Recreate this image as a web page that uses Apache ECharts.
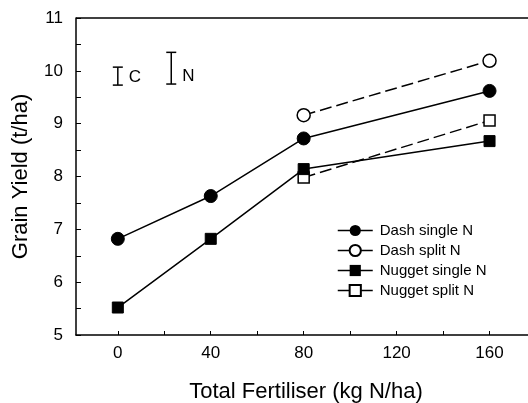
<!DOCTYPE html>
<html><head><meta charset="utf-8">
<script src="https://cdn.jsdelivr.net/npm/echarts@6/dist/echarts.min.js"></script>
<style>html,body{margin:0;padding:0;background:#fff}#c{width:528px;height:403px}</style>
</head><body><div id="c"></div>
<script>
var fertiliser = [0, 40, 80, 160];
var dashSingle = [6.82, 7.63, 8.72, 9.62];
var dashSplitX = [80, 160];
var dashSplit = [9.16, 10.19];
var nuggetSingle = [5.52, 6.82, 8.14, 8.67];
var nuggetSplitX = [80, 160];
var nuggetSplit = [7.98, 9.06];
var xTickLabels = [0, 40, 80, 120, 160];
var xTicks = [0, 20, 40, 60, 80, 100, 120, 140, 160, 180];
var errLabels = ['C', 'N'];
var errX = [0, 23];
var errLow = [9.73, 9.75];
var errHigh = [10.07, 10.35];

function pairs(xs, ys){ return xs.map(function(x,i){return [x, ys[i]];}); }
var FONT = '"Liberation Sans", Arial, Helvetica, sans-serif';

var chart = echarts.init(document.getElementById('c'), null, {renderer:'canvas'});
var baseLine = {color:'#000', width:1.5};
chart.setOption({
  animation:false,
  backgroundColor:'#fff',
  textStyle:{fontFamily:FONT},
  grid:{left:76, top:18, width:460, height:317, show:false, containLabel:false, outerBoundsMode:'none'},
  xAxis:{
    type:'value', min:-18, max:180,
    name:'Total Fertiliser (kg N/ha)', nameLocation:'middle', nameGap:46,
    nameTextStyle:{fontSize:22, color:'#000', fontFamily:FONT},
    axisLine:{onZero:false, lineStyle:{color:'#000', width:1.5}},
    axisTick:{inside:true, length:4, customValues:xTicks, lineStyle:{color:'#000'}},
    axisLabel:{customValues:xTickLabels, fontSize:17, color:'#000', margin:10, fontFamily:FONT},
    splitLine:{show:false}
  },
  yAxis:{
    type:'value', min:5, max:11, interval:0.5,
    name:'Grain Yield (t/ha)', nameLocation:'middle', nameGap:44,
    nameTextStyle:{fontSize:22, color:'#000', fontFamily:FONT},
    axisLine:{onZero:false, lineStyle:{color:'#000', width:1.5}},
    axisTick:{inside:true, length:5, lineStyle:{color:'#000'}},
    axisLabel:{fontSize:17, color:'#000', margin:13, fontFamily:FONT,
      formatter:function(v){ return (Math.abs(v-Math.round(v))<1e-6)? String(Math.round(v)) : ''; }},
    splitLine:{show:false}
  },
  legend:{
    orient:'vertical', left:337, top:223, padding:0, itemWidth:35, itemHeight:14, itemGap:5,
    textStyle:{fontSize:15, color:'#000', fontFamily:FONT, padding:[0,0,0,2]},
    lineStyle:{type:'solid', width:1.5, color:'#000'},
    data:['Dash single N','Dash split N','Nugget single N','Nugget split N']
  },
  series:[
    {name:'Dash single N', type:'line', data:pairs(fertiliser, dashSingle),
     symbol:'circle', symbolSize:13, lineStyle:baseLine, itemStyle:{color:'#000', borderColor:'#000'}, z:3},
    {name:'Dash split N', type:'line', data:pairs(dashSplitX, dashSplit),
     symbol:'circle', symbolSize:13, showAllSymbol:true,
     lineStyle:{color:'#000', width:1.5, type:[12,5]}, itemStyle:{color:'#fff', borderColor:'#000', borderWidth:1.5}, z:3},
    {name:'Nugget single N', type:'line', data:pairs(fertiliser, nuggetSingle),
     symbol:'rect', symbolSize:11, lineStyle:baseLine, itemStyle:{color:'#000', borderColor:'#000'}, z:4},
    {name:'Nugget split N', type:'line', data:pairs(nuggetSplitX, nuggetSplit),
     symbol:'rect', symbolSize:11,
     lineStyle:{color:'#000', width:1.5, type:[12,5]}, itemStyle:{color:'#fff', borderColor:'#000', borderWidth:1.5}, z:3},
    {type:'custom', silent:true,
     data: errX.map(function(x,i){ return [x, errLow[i], errHigh[i], i]; }),
     renderItem:function(params, api){
       var lo = api.coord([api.value(0), api.value(1)]);
       var hi = api.coord([api.value(0), api.value(2)]);
       var half = 5;
       var st = {stroke:'#000', lineWidth:1.5};
       return {type:'group', children:[
         {type:'line', shape:{x1:lo[0], y1:lo[1], x2:hi[0], y2:hi[1]}, style:st},
         {type:'line', shape:{x1:lo[0]-half, y1:lo[1], x2:lo[0]+half, y2:lo[1]}, style:st},
         {type:'line', shape:{x1:hi[0]-half, y1:hi[1], x2:hi[0]+half, y2:hi[1]}, style:st},
         {type:'text', style:{text:errLabels[api.value(3)], x:lo[0]+11, y:lo[1]+1,
           verticalAlign:'bottom', align:'left',
           font:'17px ' + FONT, fill:'#000'}}
       ]};
     }}
  ]
});
chart.setOption({graphic:[{type:'line', shape:{x1:76, y1:18, x2:536, y2:18}, style:{stroke:'#000', lineWidth:1.5}}]});
</script></body></html>
